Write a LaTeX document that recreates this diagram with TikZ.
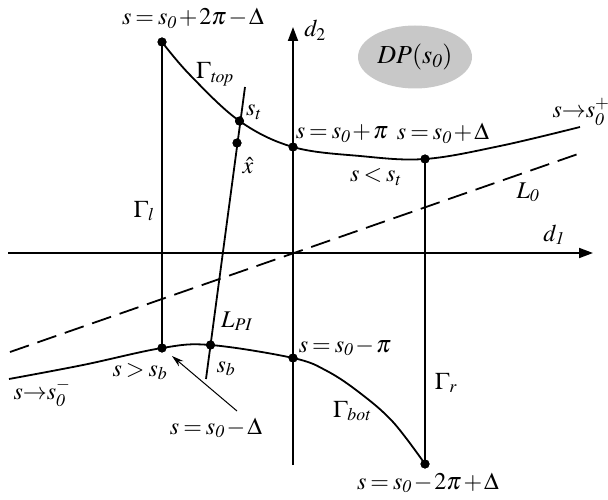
\documentclass[tikz,border=0pt]{standalone}
\usepackage{mathptmx}
\usetikzlibrary{arrows.meta,shapes.geometric}
\definecolor{dpgray}{RGB}{200,200,200}
\newcommand\mymuspacing{\thickmuskip=3mu\relax\medmuskip=1.5mu\relax}
\tikzset{
  curveln/.style={line width=1.8pt},
  axisln/.style={line width=1.8pt,-{Triangle[length=14pt,width=10pt]}},
  gline/.style={line width=1.6pt},
  dotn/.style={circle,fill=black,inner sep=0pt,minimum size=9pt},
  lbl/.style={anchor=base,inner sep=0pt,font=\fontsize{24}{28}\selectfont\mymuspacing},
  annarrow/.style={line width=1pt,-{Stealth[length=12pt,width=7pt]}},
}
\begin{document}
\begin{tikzpicture}[x=1pt,y=-1pt]
\useasboundingbox (0,0) rectangle (608,500);
% axes
\coordinate (d1s) at (8,253);
\coordinate (d1e) at (593,253);
\coordinate (d2s) at (293,465);
\coordinate (d2e) at (293,27);
\draw[axisln] (d1s) -- (d1e);
\draw[axisln] (d2s) -- (d2e);
% ellipse
\node[ellipse,fill=dpgray,minimum width=114pt,minimum height=63pt,inner sep=0pt,font=\fontsize{26}{30}\selectfont] (dp) at (415,57) {$\mathit{DP}(s_{\mathit{0}})$};
% points
\node[dotn] (gltop) at (162,42) {};
\node[dotn] (glbot) at (162,348) {};
\node[dotn] (st) at (239.5,121) {};
\node[dotn] (xh) at (237,143) {};
\node[dotn] (spi) at (293,147) {};
\node[dotn] (sdel) at (425,159) {};
\node[dotn] (sb) at (210.5,345) {};
\node[dotn] (smpi) at (293,358) {};
\node[dotn] (grbot) at (425,464) {};
\coordinate (topend) at (580,127);
\coordinate (botend) at (9,379);
% L0 dashed
\coordinate (l0a) at (10,352);
\coordinate (l0b) at (578,154);
\draw[curveln,dash pattern=on 20pt off 9pt] (l0a) -- (l0b);
% L_PI
\coordinate (lpiB) at (206,379);
\coordinate (lpiT) at (245,87);
\draw[curveln] (lpiB) -- (lpiT);
% gamma l and r
\draw[gline] (gltop.center) -- (glbot.center);
\draw[gline] (sdel.center) -- (grbot.center);
% top curve
\draw[curveln] plot[smooth,tension=0.6] coordinates {(gltop.center) (190,75) (st.center) (spi.center) (360,156) (sdel.center) (500,146) (topend)};
% bottom curve
\draw[curveln] plot[smooth,tension=0.6] coordinates {(botend) (83,365) (glbot.center) (sb.center) (smpi.center) (327,371) (360,393) (393,422) (grbot.center)};
% redraw dots on top
\foreach \n in {gltop,glbot,st,xh,spi,sdel,sb,smpi,grbot} \fill (\n.center) circle (4.5pt);
% labels
\node[lbl] (ltop) at (193,25) {$s=s_{\mathit{0}}+2\pi-\Delta$};
\node[lbl] (lgtop) at (215,79) {$\Gamma_{\mathit{top}}$};
\node[lbl] (lst) at (254,116) {$s_t$};
\node[lbl] (lxh) at (248,174) {$\hat{x}$};
\node[lbl] (lspi) at (342,139) {$s=s_{\mathit{0}}+\pi$};
\node[lbl] (lsdel) at (443,140) {$s=s_{\mathit{0}}+\Delta$};
\node[lbl] (lslt) at (376,182) {$s<s_t$};
\node[lbl] (lsplus) at (581,118) {$s{\rightarrow}s_{\mathit{0}}^{+}$};
\node[lbl] (ll0) at (528,198) {$L_{\mathit{0}}$};
\node[lbl] (ld2) at (315,37) {$d_2$};
\node[lbl] (ld1) at (554,241) {$d_{\mathit{1}}$};
\node[lbl] (lgl) at (144,217) {$\Gamma_l$};
\node[lbl] (llpi) at (237,327) {$L_{\mathit{PI}}$};
\node[lbl] (lsmpi) at (345,352) {$s=s_{\mathit{0}}-\pi$};
\node[lbl] (lsb) at (226,372) {$s_b$};
\node[lbl] (lsgt) at (140,376) {$s>s_b$};
\node[lbl] (lsminus) at (42,399) {$s{\rightarrow}s_{\mathit{0}}^{-}$};
\node[lbl] (lsmdel) at (216,434) {$s=s_{\mathit{0}}-\Delta$};
\node[lbl] (lgr) at (446,389) {$\Gamma_r$};
\node[lbl] (lgbot) at (352,417) {$\Gamma_{\mathit{bot}}$};
\node[lbl] (lsm2pi) at (428,489) {$s=s_{\mathit{0}}-2\pi+\Delta$};
% annotation arrow
\coordinate (annS) at (237,411);
\coordinate (annE) at (172,356);
\draw[annarrow] (annS) -- (annE);
\end{tikzpicture}
\end{document}
